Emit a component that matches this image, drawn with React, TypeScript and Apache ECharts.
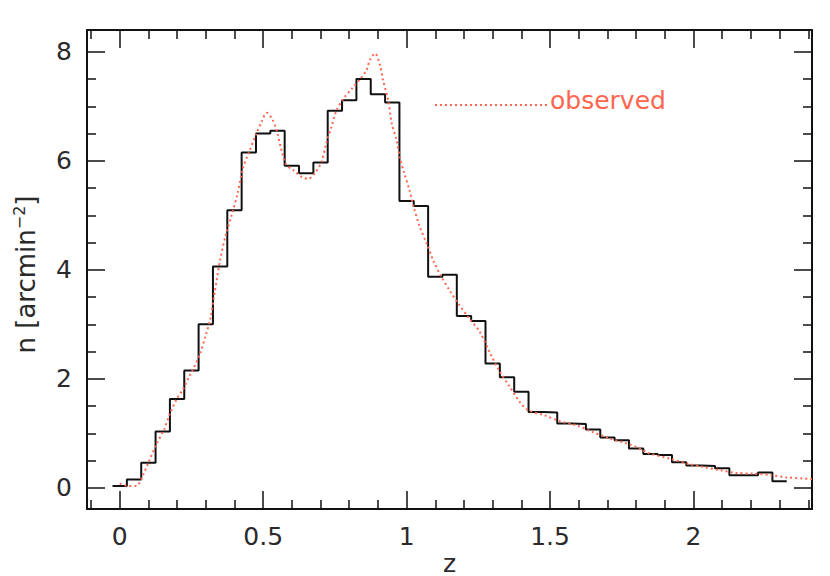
import React, { useEffect, useRef } from "react";
import * as echarts from "echarts";

// Histogram bins (centres in z) and heights n [arcmin^-2]
const binCenters = [
  0, 0.05, 0.1, 0.15, 0.2, 0.25, 0.3, 0.35, 0.4, 0.45, 0.5, 0.55, 0.6, 0.65, 0.7, 0.75,
  0.8, 0.85, 0.9, 0.95, 1.0, 1.05, 1.1, 1.15, 1.2, 1.25, 1.3, 1.35, 1.4, 1.45, 1.5, 1.55,
  1.6, 1.65, 1.7, 1.75, 1.8, 1.85, 1.9, 1.95, 2.0, 2.05, 2.1, 2.15, 2.2, 2.25, 2.3,
];
const binCounts = [
  0.03, 0.15, 0.46, 1.03, 1.63, 2.15, 3.0, 4.06, 5.09, 6.15, 6.5, 6.55, 5.91, 5.77, 5.97, 6.92,
  7.11, 7.5, 7.22, 7.07, 5.26, 5.17, 3.87, 3.91, 3.15, 3.06, 2.28, 2.03, 1.76, 1.39, 1.38, 1.18,
  1.17, 1.07, 0.92, 0.87, 0.72, 0.62, 0.6, 0.47, 0.41, 0.4, 0.36, 0.23, 0.23, 0.28, 0.12,
];
const BIN_WIDTH = 0.05;

// Observed distribution (dotted curve)
const obsZ = [
  0.0, 0.03, 0.06, 0.08, 0.1, 0.13, 0.155, 0.175, 0.2, 0.22, 0.24, 0.26, 0.28, 0.3, 0.315,
  0.33, 0.35, 0.37, 0.39, 0.41, 0.43, 0.45, 0.475, 0.495, 0.512, 0.53, 0.547, 0.564, 0.58,
  0.605, 0.635, 0.657, 0.68, 0.703, 0.72, 0.738, 0.756, 0.78, 0.81, 0.84, 0.86, 0.872, 0.89,
  0.907, 0.918, 0.936, 0.948, 0.965, 0.977, 0.99, 1.01, 1.025, 1.045, 1.07, 1.093, 1.12,
  1.15, 1.18, 1.215, 1.255, 1.29, 1.325, 1.36, 1.395, 1.425, 1.48, 1.535, 1.595, 1.65, 1.71,
  1.77, 1.81, 1.84, 1.92, 1.98, 2.035, 2.095, 2.15, 2.21, 2.27, 2.325, 2.413,
];
const obsN = [
  0.08, 0.03, 0.04, 0.22, 0.46, 0.82, 1.07, 1.36, 1.64, 1.8, 2.02, 2.22, 2.46, 2.8, 3.08,
  3.55, 4.18, 4.65, 5.0, 5.38, 5.87, 6.15, 6.48, 6.72, 6.88, 6.78, 6.56, 6.19, 5.93,
  5.83, 5.7, 5.67, 5.77, 5.98, 6.32, 6.62, 6.93, 7.14, 7.33, 7.51, 7.66, 7.85, 7.97,
  7.76, 7.48, 7.11, 6.69, 6.38, 6.05, 5.8, 5.46, 5.15, 4.8, 4.48, 4.17, 3.88,
  3.62, 3.38, 3.13, 2.86, 2.48, 2.13, 1.85, 1.57, 1.42, 1.33, 1.22, 1.14, 1.02, 0.9,
  0.81, 0.73, 0.64, 0.53, 0.44, 0.38, 0.32, 0.27, 0.26, 0.23, 0.19, 0.16,
];

const xMajorTicks = [0, 0.5, 1, 1.5, 2];
const xMinorTicks = [
  -0.1, 0.1, 0.2, 0.3, 0.4, 0.6, 0.7, 0.8, 0.9, 1.1, 1.2, 1.3, 1.4, 1.6, 1.7, 1.8, 1.9,
  2.1, 2.2, 2.3, 2.4,
];
const yMajorTicks = [0, 2, 4, 6, 8];
const yMinorTicks = [0.5, 1, 1.5, 2.5, 3, 3.5, 4.5, 5, 5.5, 6.5, 7, 7.5];

const legendLabel = "observed";

const X_MIN = -0.114;
const X_MAX = 2.413;
const Y_MIN = -0.39;
const Y_MAX = 8.4;

const RED = "#ff6650";
const INK = "#111";
const TEXT = "#2a2a2a";
const FONT = "DejaVu Sans";

function makeAxis(
  min: number,
  max: number,
  position: string,
  ticks: number[],
  len: number,
  showLine: boolean,
  labels: number[] | null,
  extra: any = {}
) {
  return {
    type: "value",
    min,
    max,
    position,
    axisLine: { show: showLine, onZero: false, lineStyle: { color: INK, width: 2 } },
    axisTick: {
      show: true,
      inside: true,
      length: len,
      customValues: ticks,
      lineStyle: { color: INK, width: 1.5 },
    },
    axisLabel: labels
      ? {
          show: true,
          customValues: labels,
          color: TEXT,
          fontFamily: FONT,
          fontSize: 25,
          margin: 15,
          formatter: (v: number) => String(v),
        }
      : { show: false },
    splitLine: { show: false },
    ...extra,
  };
}

export default function App() {
  const ref = useRef<HTMLDivElement>(null);

  useEffect(() => {
    if (!ref.current) return;
    const chart = echarts.init(ref.current, null, { renderer: "svg" });

    const stepData: number[][] = [];
    binCenters.forEach((c, i) => {
      stepData.push([c - BIN_WIDTH / 2, binCounts[i]]);
      stepData.push([c + BIN_WIDTH / 2, binCounts[i]]);
    });
    const obsData = obsZ.map((z, i) => [z, obsN[i]]);

    chart.setOption({
      animation: false,
      backgroundColor: "#fff",
      grid: {
        left: 87,
        right: 18,
        top: 30,
        bottom: 67,
        containLabel: false,
        outerBoundsMode: "none",
      },
      graphic: [
        {
          type: "line",
          shape: { x1: 435, y1: 105, x2: 547, y2: 105 },
          style: { stroke: RED, lineWidth: 2, lineDash: [2, 3] },
          silent: true,
        },
        {
          type: "text",
          x: 550,
          y: 100,
          style: {
            text: legendLabel,
            fill: RED,
            font: `25px '${FONT}'`,
            textVerticalAlign: "middle",
            verticalAlign: "middle",
          },
          silent: true,
        },
      ],
      xAxis: [
        makeAxis(X_MIN, X_MAX, "bottom", xMajorTicks, 18, true, xMajorTicks, {
          name: "z",
          nameLocation: "middle",
          nameGap: 44,
          nameMoveOverlap: false,
          nameTextStyle: { color: TEXT, fontFamily: FONT, fontSize: 25, lineHeight: 20 },
        }),
        makeAxis(X_MIN, X_MAX, "bottom", xMinorTicks, 9, false, null),
        makeAxis(X_MIN, X_MAX, "top", xMajorTicks, 18, true, null),
        makeAxis(X_MIN, X_MAX, "top", xMinorTicks, 9, false, null),
      ],
      yAxis: [
        makeAxis(Y_MIN, Y_MAX, "left", yMajorTicks, 18, true, yMajorTicks, {
          name: "{a|n [arcmin}{s|−2}{a|]}",
          nameLocation: "middle",
          nameGap: 46,
          nameMoveOverlap: false,
          nameTextStyle: {
            color: TEXT,
            fontFamily: FONT,
            fontSize: 26,
            padding: [0, 10, 0, 0],
            rich: {
              a: { color: TEXT, fontFamily: FONT, fontSize: 26, lineHeight: 30 },
              s: {
                color: TEXT,
                fontFamily: FONT,
                fontSize: 16,
                lineHeight: 30,
                verticalAlign: "top",
              },
            },
          },
        }),
        makeAxis(Y_MIN, Y_MAX, "left", yMinorTicks, 9, false, null),
        makeAxis(Y_MIN, Y_MAX, "right", yMajorTicks, 18, true, null),
        makeAxis(Y_MIN, Y_MAX, "right", yMinorTicks, 9, false, null),
      ],
      series: [
        {
          name: "histogram",
          type: "line",
          xAxisIndex: 0,
          yAxisIndex: 0,
          data: stepData,
          symbol: "none",
          silent: true,
          lineStyle: { color: INK, width: 2 },
          z: 2,
        },
        {
          name: "observed",
          type: "line",
          xAxisIndex: 0,
          yAxisIndex: 0,
          data: obsData,
          smooth: 0.3,
          symbol: "none",
          showSymbol: false,
          silent: true,
          itemStyle: { color: RED },
          lineStyle: { color: RED, width: 2, type: [2, 3] },
          z: 3,
        },
      ],
    });

    return () => chart.dispose();
  }, []);

  return (
    <div
      ref={ref}
      style={{ position: "fixed", left: 0, top: 0, width: 830, height: 576 }}
    />
  );
}
